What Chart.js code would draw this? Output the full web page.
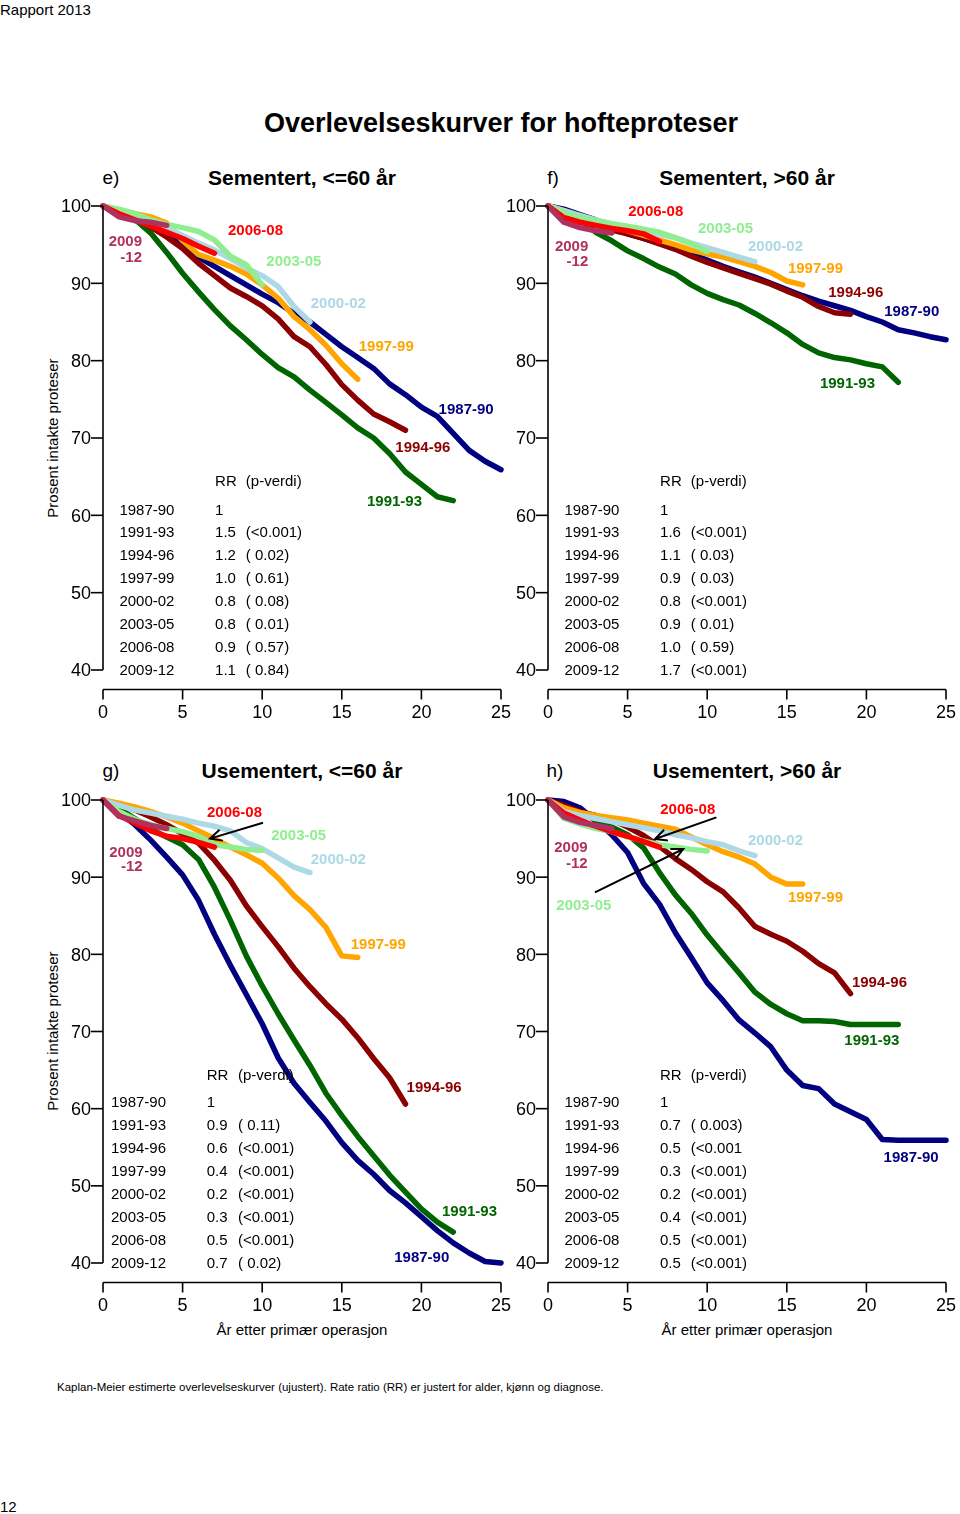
<!DOCTYPE html>
<html><head><meta charset="utf-8">
<script src="https://cdn.jsdelivr.net/npm/chart.js@4.4.0/dist/chart.umd.min.js"></script>
<style>
body{margin:0;background:#fff;}
#page{position:relative;width:960px;height:1514px;overflow:hidden;background:#fff;font-family:"Liberation Sans",Arial,Helvetica,sans-serif;color:#000;}
.t{position:absolute;white-space:nowrap;line-height:1;}
.c{transform:translate(-50%,-50%);}
.l{transform:translateY(-50%);}
.r{transform:translate(-50%,-50%) rotate(-90deg);}
canvas{position:absolute;}
</style></head><body><div id="page">
<div class="t l" style="left:0;top:9px;font-size:15px">Rapport 2013</div>
<div class="t c" style="left:501px;top:123px;font-size:27px;font-weight:bold">Overlevelseskurver for hofteproteser</div>
<div class="t c" style="left:111px;top:177px;font-size:19px">e)</div>
<div class="t c" style="left:302px;top:177px;font-size:21px;font-weight:bold">Sementert, &lt;=60 år</div>
<div class="t c" style="left:553px;top:177px;font-size:19px">f)</div>
<div class="t c" style="left:747px;top:177px;font-size:21px;font-weight:bold">Sementert, &gt;60 år</div>
<div class="t c" style="left:111px;top:770px;font-size:19px">g)</div>
<div class="t c" style="left:302px;top:770px;font-size:21px;font-weight:bold">Usementert, &lt;=60 år</div>
<div class="t c" style="left:555px;top:770px;font-size:19px">h)</div>
<div class="t c" style="left:747px;top:770px;font-size:21px;font-weight:bold">Usementert, &gt;60 år</div>
<div class="t r" style="left:52px;top:438px;font-size:15px">Prosent intakte proteser</div>
<div class="t r" style="left:52px;top:1031px;font-size:15px">Prosent intakte proteser</div>
<div class="t c" style="left:302px;top:1329px;font-size:15px">År etter primær operasjon</div>
<div class="t c" style="left:747px;top:1329px;font-size:15px">År etter primær operasjon</div>
<div class="t l" style="left:57px;top:1388px;font-size:11.5px">Kaplan-Meier estimerte overlevelseskurver (ujustert). Rate ratio (RR) er justert for alder, kjønn og diagnose.</div>
<div class="t l" style="left:0;top:1506px;font-size:15px">12</div>
<canvas id="ce" width="525" height="560" style="left:0;top:180px"></canvas>
<canvas id="cf" width="480" height="560" style="left:480px;top:180px"></canvas>
<canvas id="cg" width="525" height="560" style="left:0;top:775px"></canvas>
<canvas id="ch" width="480" height="560" style="left:480px;top:775px"></canvas>
</div>
<script>
// ---- shared categories / ticks ----
const years = [0,1,2,3,4,5,6,7,8,9,10,11,12,13,14,15,16,17,18,19,20,21,22,23,24,25];
const periods = ['1987-90','1991-93','1994-96','1997-99','2000-02','2003-05','2006-08','2009-12'];
const xTicks = [0,5,10,15,20,25];
const yTicks = [40,50,60,70,80,90,100];

// ---- e) Sementert, <=60 år ----
const e8790 = [100,99.3,98.5,97.6,96.5,95.0,93.4,92.2,91.0,89.8,88.6,87.5,86.1,85.0,83.4,81.8,80.4,79.0,77.0,75.6,74.0,72.8,70.6,68.4,67.0,65.9];
const e9193 = [100,99.2,98.3,96.5,94.0,91.3,88.9,86.6,84.5,82.7,80.8,79.1,77.9,76.2,74.6,73.0,71.3,70.0,68.0,65.6,64.0,62.4,61.9];
const e9496 = [100,99.3,98.5,97.3,96.0,94.5,92.6,91.0,89.4,88.3,87.1,85.4,83.1,81.8,79.5,76.9,74.9,73.1,72.1,71.0];
const e9799 = [100,99.5,99.0,98.6,97.8,95.5,93.7,93.0,92.2,91.2,89.8,88.1,85.7,84.0,82.0,79.6,77.6];
const e0002 = [100,99.4,98.8,98.2,97.2,96.2,95.2,94.3,93.2,92.0,91.0,89.6,87.0,85.0];
const e0305 = [100,99.6,99.0,98.2,97.6,97.2,96.7,95.6,93.5,92.4,89.8];
const e0608 = [100,99.0,98.2,97.4,96.6,95.8,94.8,93.9];
const e0912 = [100,98.6,98.1,97.9,97.5];
const eRR = ['1','1.5','1.2','1.0','0.8','0.8','0.9','1.1'];
const eP  = ['','(<0.001)','( 0.02)','( 0.61)','( 0.08)','( 0.01)','( 0.57)','( 0.84)'];

// ---- f) Sementert, >60 år ----
const f8790 = [100,99.6,98.9,98.2,97.3,96.4,95.8,95.2,94.6,93.8,93.0,92.2,91.5,90.8,90.0,89.2,88.4,87.7,87.1,86.5,85.7,85.0,84.0,83.6,83.1,82.7];
const f9193 = [100,99.3,98.3,96.6,95.5,94.2,93.2,92.1,91.2,89.8,88.7,87.9,87.2,86.1,84.9,83.6,82.1,81.0,80.4,80.1,79.6,79.2,77.2];
const f9496 = [100,99.4,98.5,97.6,96.9,96.4,95.8,95.1,94.4,93.5,92.7,92.0,91.3,90.6,89.9,89.0,88.2,87.0,86.2,86.0];
const f9799 = [100,99.4,98.7,98.0,97.3,96.8,96.2,95.6,95.0,94.3,93.8,93.4,92.8,92.2,91.4,90.3,89.8];
const f0002 = [100,99.4,98.8,98.2,97.7,97.2,96.8,96.3,95.9,95.2,94.6,94.0,93.4,92.8];
const f0305 = [100,99.2,98.6,98.1,97.7,97.4,97.0,96.6,95.9,95.1,94.1];
const f0608 = [100,98.5,97.9,97.5,97.1,96.8,96.4,95.4];
const f0912 = [100,97.9,97.2,96.8,96.5];
const fRR = ['1','1.6','1.1','0.9','0.8','0.9','1.0','1.7'];
const fP  = ['','(<0.001)','( 0.03)','( 0.03)','(<0.001)','( 0.01)','( 0.59)','(<0.001)'];

// ---- g) Usementert, <=60 år ----
const g8790 = [100,98.4,96.8,94.8,92.6,90.3,87.0,82.6,78.6,74.8,71.0,66.6,63.3,60.8,58.4,55.6,53.3,51.5,49.4,47.8,46.0,44.2,42.6,41.3,40.2,40.0];
const g9193 = [100,98.9,97.6,96.2,95.2,94.2,92.3,88.7,84.4,79.8,75.9,72.3,68.9,65.6,62.0,59.1,56.4,53.9,51.4,49.2,47.0,45.3,44.0];
const g9496 = [100,99.4,98.7,97.8,96.8,95.6,94.4,92.2,89.6,86.3,83.6,81.0,78.2,75.8,73.6,71.6,69.2,66.5,64.0,60.6];
const g9799 = [100,99.6,99.1,98.5,97.8,97.0,96.0,95.0,93.9,92.9,91.8,89.9,87.6,85.8,83.5,79.8,79.6];
const g0002 = [100,99.3,98.7,98.3,97.9,97.5,97.0,96.6,96.0,94.5,93.7,92.5,91.3,90.6];
const g0305 = [100,98.5,97.5,96.8,96.3,95.9,95.3,94.2,93.9,93.6,93.5];
const g0608 = [100,98.0,97.0,96.0,95.3,95.0,94.5,93.9];
const g0912 = [100,97.9,97.3,96.7,96.3];
const gRR = ['1','0.9','0.6','0.4','0.2','0.3','0.5','0.7'];
const gP  = ['','( 0.11)','(<0.001)','(<0.001)','(<0.001)','(<0.001)','(<0.001)','( 0.02)'];

// ---- h) Usementert, >60 år ----
const h8790 = [100,99.8,99.0,97.3,95.5,93.2,89.2,86.5,82.8,79.6,76.3,74.0,71.5,69.8,68.0,65.0,63.0,62.6,60.6,59.6,58.6,56.0,55.9,55.9,55.9,55.9];
const h9193 = [100,99.2,98.4,97.4,96.5,95.5,93.8,90.6,87.7,85.3,82.5,80.0,77.6,75.1,73.5,72.3,71.4,71.4,71.3,70.9,70.9,70.9,70.9];
const h9496 = [100,99.3,98.5,98.0,97.4,96.5,95.4,94.0,92.4,91.0,89.4,88.1,86.0,83.6,82.6,81.7,80.4,78.8,77.6,74.9];
const h9799 = [100,99.0,98.4,98.0,97.7,97.4,97.0,96.6,96.2,95.2,94.2,93.3,92.6,91.7,90.0,89.1,89.1];
const h0002 = [100,98.5,98.0,97.6,97.2,96.8,96.4,96.0,95.5,95.1,94.6,94.2,93.4,92.8];
const h0305 = [100,97.6,96.9,96.3,95.9,95.2,94.7,94.2,93.9,93.6,93.4];
const h0608 = [100,98.3,97.4,96.6,95.9,95.3,94.6,93.9];
const h0912 = [100,97.8,97.1,96.7,96.3];
const hRR = ['1','0.7','0.5','0.3','0.2','0.4','0.5','0.5'];
const hP  = ['','( 0.003)','(<0.001','(<0.001)','(<0.001)','(<0.001)','(<0.001)','(<0.001)'];

// ---- styles ----
const colors = ['#000080','#006400','#8B0000','#FFA500','#ADD8E6','#90EE90','#FF0000','#B03060'];
const FONT = '"Liberation Sans", Arial, Helvetica, sans-serif';

// label placements (in data units of each panel) – layout only
const panels = [
  {id:'ce', pad:{left:103,top:26,right:24,bottom:70},
   series:[e8790,e9193,e9496,e9799,e0002,e0305,e0608,e0912], rr:eRR, p:eP,
   table:{lab:1.03, rr:7.04, pv:8.97, head:64.47, first:60.8, step:2.97},
   labels:[[0,22.81,73.84],[1,18.31,61.93],[2,20.09,68.93],[3,17.79,81.92],[4,14.78,87.45],[5,11.99,92.91],[6,9.58,97.0]],
   pink:[2.45,95.47,93.4], arrows:[]},
  {id:'cf', pad:{left:68,top:26,right:14,bottom:70},
   series:[f8790,f9193,f9496,f9799,f0002,f0305,f0608,f0912], rr:fRR, p:fP,
   table:{lab:1.03, rr:7.04, pv:8.97, head:64.47, first:60.8, step:2.97},
   labels:[[0,22.85,86.45],[1,18.81,77.18],[2,19.33,88.9],[3,16.8,92.05],[4,14.29,94.85],[5,11.15,97.22],[6,6.77,99.38]],
   pink:[2.53,94.85,92.91], arrows:[]},
  {id:'cg', pad:{left:103,top:25,right:24,bottom:72},
   series:[g8790,g9193,g9496,g9799,g0002,g0305,g0608,g0912], rr:gRR, p:gP,
   table:{lab:0.5, rr:6.51, pv:8.48, head:64.42, first:60.92, step:2.99},
   labels:[[0,20.02,40.87],[1,23.02,46.83],[2,20.8,62.89],[3,17.29,81.45],[4,14.78,92.46],[5,12.29,95.48],[6,8.26,98.46]],
   pink:[2.49,93.33,91.45], arrows:[[10.05,97.06,6.72,95.0]]},
  {id:'ch', pad:{left:68,top:25,right:14,bottom:72},
   series:[h8790,h9193,h9496,h9799,h0002,h0305,h0608,h0912], rr:hRR, p:hP,
   table:{lab:1.03, rr:7.03, pv:8.97, head:64.42, first:60.92, step:2.99},
   labels:[[0,22.81,53.82],[1,20.34,68.93],[2,20.82,76.49],[3,16.8,87.5],[4,14.29,94.83],[5,2.25,86.41],[6,8.78,98.94]],
   pink:[2.49,93.98,91.92], arrows:[[10.58,97.75,6.72,94.95],[2.95,88.03,8.5,93.65]]}
];

function txt(ctx, s, x, yc, size, align, bold){
  ctx.font = (bold?'bold ':'') + size + 'px ' + FONT;
  ctx.textAlign = align; ctx.textBaseline = 'alphabetic';
  ctx.fillText(s, x, yc + 0.358*size);
}

function makePlugin(P){
  return {
    id:'rdraw'+P.id,
    afterDraw(chart){
      const ctx = chart.ctx, xs = chart.scales.x, ys = chart.scales.y;
      ctx.save();
      ctx.strokeStyle = '#000'; ctx.fillStyle = '#000'; ctx.lineWidth = 1.6; ctx.lineCap='butt';
      // y axis
      const x0 = xs.getPixelForValue(0);
      const yT = ys.getPixelForValue(yTicks[yTicks.length-1]), yB = ys.getPixelForValue(yTicks[0]);
      ctx.beginPath(); ctx.moveTo(x0, yT); ctx.lineTo(x0, yB); ctx.stroke();
      yTicks.forEach(v=>{
        const py = ys.getPixelForValue(v);
        ctx.beginPath(); ctx.moveTo(x0-12, py); ctx.lineTo(x0, py); ctx.stroke();
        txt(ctx, String(v), x0-12, py, 18, 'right', false);
      });
      // x axis (detached)
      const ay = yB + 19.5;
      ctx.beginPath(); ctx.moveTo(xs.getPixelForValue(xTicks[0]), ay); ctx.lineTo(xs.getPixelForValue(xTicks[xTicks.length-1]), ay); ctx.stroke();
      xTicks.forEach(v=>{
        const px = xs.getPixelForValue(v);
        ctx.beginPath(); ctx.moveTo(px, ay); ctx.lineTo(px, ay+10); ctx.stroke();
        txt(ctx, String(v), px, ay+22.5, 18, 'center', false);
      });
      // series labels
      P.labels.forEach(([i,xv,yv])=>{
        ctx.fillStyle = colors[i];
        txt(ctx, periods[i], xs.getPixelForValue(xv), ys.getPixelForValue(yv), 15, 'center', true);
      });
      ctx.fillStyle = colors[7];
      txt(ctx, '2009', xs.getPixelForValue(P.pink[0]), ys.getPixelForValue(P.pink[1]), 15, 'right', true);
      txt(ctx, '-12', xs.getPixelForValue(P.pink[0]), ys.getPixelForValue(P.pink[2]), 15, 'right', true);
      // arrows
      ctx.strokeStyle = '#000'; ctx.lineWidth = 2;
      P.arrows.forEach(([x1,y1,x2,y2])=>{
        const ax1=xs.getPixelForValue(x1), ay1=ys.getPixelForValue(y1), ax2=xs.getPixelForValue(x2), ay2=ys.getPixelForValue(y2);
        const ang = Math.atan2(ay2-ay1, ax2-ax1), L=13, a=0.45;
        ctx.beginPath(); ctx.moveTo(ax1,ay1); ctx.lineTo(ax2,ay2);
        ctx.moveTo(ax2 - L*Math.cos(ang-a), ay2 - L*Math.sin(ang-a)); ctx.lineTo(ax2,ay2);
        ctx.lineTo(ax2 - L*Math.cos(ang+a), ay2 - L*Math.sin(ang+a));
        ctx.stroke();
      });
      // RR table
      ctx.fillStyle = '#000';
      const T = P.table;
      txt(ctx, 'RR', xs.getPixelForValue(T.rr), ys.getPixelForValue(T.head), 15, 'left', false);
      txt(ctx, '(p-verdi)', xs.getPixelForValue(T.pv), ys.getPixelForValue(T.head), 15, 'left', false);
      periods.forEach((per,i)=>{
        const py = ys.getPixelForValue(T.first - i*T.step);
        txt(ctx, per, xs.getPixelForValue(T.lab), py, 15, 'left', false);
        txt(ctx, P.rr[i], xs.getPixelForValue(T.rr), py, 15, 'left', false);
        if (P.p[i]) txt(ctx, P.p[i], xs.getPixelForValue(T.pv), py, 15, 'left', false);
      });
      ctx.restore();
    }
  };
}

panels.forEach(P=>{
  const datasets = P.series.map((vals,i)=>({
    label: periods[i],
    data: vals.map((v,k)=>({x: years[k], y: v})),
    borderColor: colors[i],
    backgroundColor: colors[i],
    borderWidth: 5.5,
    borderCapStyle: 'round',
    borderJoinStyle: 'round',
    pointRadius: 0,
    tension: 0,
    fill: false,
    clip: false,
    order: 7 - i
  }));
  new Chart(document.getElementById(P.id), {
    type: 'line',
    data: { datasets },
    options: {
      responsive: false, animation: false, devicePixelRatio: 1,
      layout: { padding: P.pad },
      scales: {
        x: { type: 'linear', min: 0, max: 25, display: false },
        y: { type: 'linear', min: 40, max: 100, display: false }
      },
      plugins: { legend: {display:false}, tooltip: {enabled:false}, title:{display:false} },
      events: []
    },
    plugins: [makePlugin(P)]
  });
});
</script>
</body></html>
